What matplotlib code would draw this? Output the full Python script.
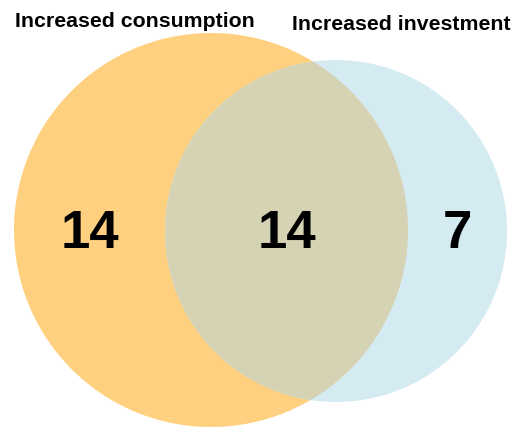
import matplotlib
matplotlib.use("Agg")
import matplotlib.pyplot as plt
from matplotlib.patches import Circle

set_labels = ["Increased consumption", "Increased investment"]
region_counts = [14, 14, 7]  # only consumption, both, only investment

fig = plt.figure(figsize=(5.12, 4.28), dpi=100)
ax = fig.add_axes([0, 0, 1, 1])
ax.set_xlim(0, 512)
ax.set_ylim(428, 0)
ax.axis("off")

c_left = "#FFD07F"
c_right = "#D5EBF2"
c_both = "#D5D3B3"

left = Circle((211, 230), 197, facecolor=c_left, edgecolor="none", zorder=1)
right = Circle((336, 231), 171, facecolor=c_right, edgecolor="none", zorder=1)
ax.add_patch(left)
ax.add_patch(right)
inter = Circle((336, 231), 171, facecolor=c_both, edgecolor="none", zorder=2)
ax.add_patch(inter)
inter.set_clip_path(left)

font = ["Liberation Sans", "DejaVu Sans"]
ax.text(134.5, 21, set_labels[0], ha="center", va="center", fontsize=15.3,
        fontweight="bold", family=font)
ax.text(401.5, 24, set_labels[1], ha="center", va="center", fontsize=15.3,
        fontweight="bold", family=font)

pos = [(90, 234), (287, 234), (457, 234)]
for (x, y), v in zip(pos, region_counts):
    ax.text(x, y, str(v), ha="center", va="center", fontsize=38,
            fontweight="bold", family=font, zorder=3)

fig.savefig("out.png", dpi=100)
